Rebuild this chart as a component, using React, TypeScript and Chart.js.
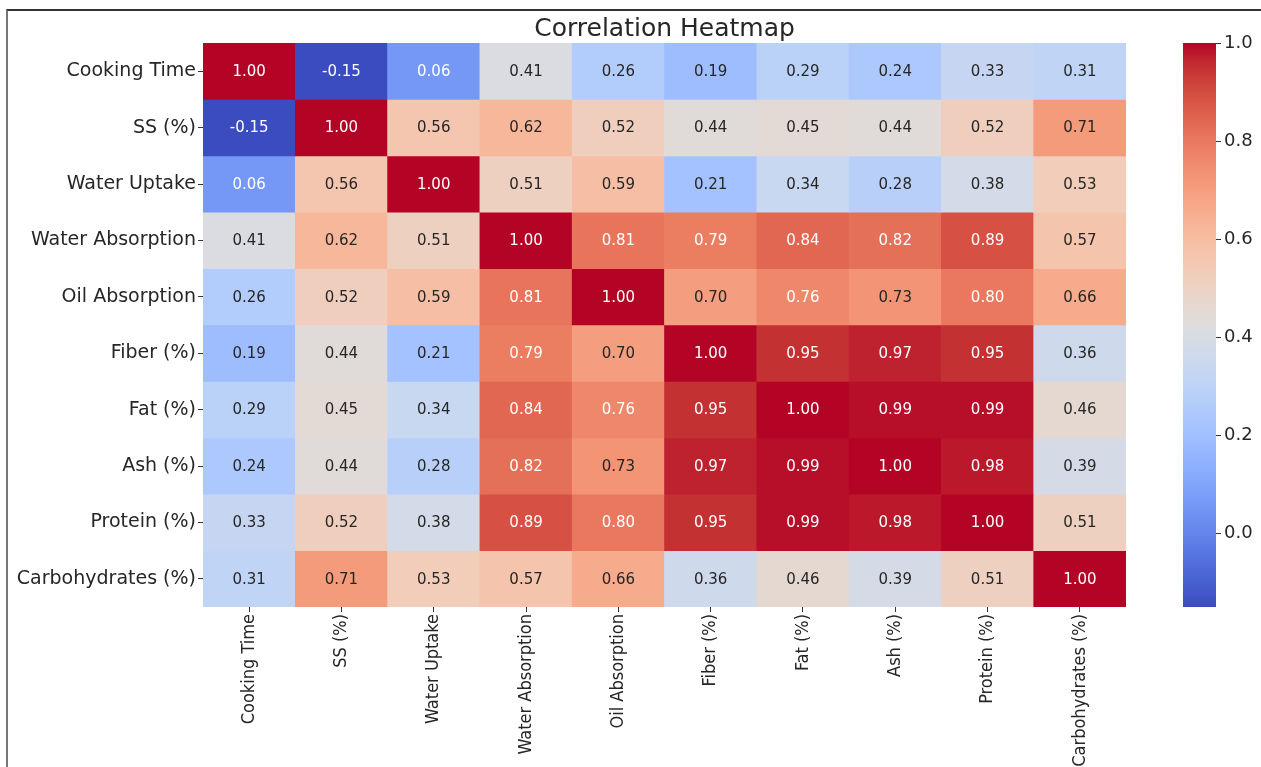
import React, { useEffect, useRef } from "react";
import { Chart, registerables } from "chart.js";

Chart.register(...registerables);

const variables = [
  "Cooking Time",
  "SS (%)",
  "Water Uptake",
  "Water Absorption",
  "Oil Absorption",
  "Fiber (%)",
  "Fat (%)",
  "Ash (%)",
  "Protein (%)",
  "Carbohydrates (%)",
];

const cookingTime = [1.0, -0.15, 0.06, 0.41, 0.26, 0.19, 0.29, 0.24, 0.33, 0.31];
const ss = [-0.15, 1.0, 0.56, 0.62, 0.52, 0.44, 0.45, 0.44, 0.52, 0.71];
const waterUptake = [0.06, 0.56, 1.0, 0.51, 0.59, 0.21, 0.34, 0.28, 0.38, 0.53];
const waterAbsorption = [0.41, 0.62, 0.51, 1.0, 0.81, 0.79, 0.84, 0.82, 0.89, 0.57];
const oilAbsorption = [0.26, 0.52, 0.59, 0.81, 1.0, 0.7, 0.76, 0.73, 0.8, 0.66];
const fiber = [0.19, 0.44, 0.21, 0.79, 0.7, 1.0, 0.95, 0.97, 0.95, 0.36];
const fat = [0.29, 0.45, 0.34, 0.84, 0.76, 0.95, 1.0, 0.99, 0.99, 0.46];
const ash = [0.24, 0.44, 0.28, 0.82, 0.73, 0.97, 0.99, 1.0, 0.98, 0.39];
const protein = [0.33, 0.52, 0.38, 0.89, 0.8, 0.95, 0.99, 0.98, 1.0, 0.51];
const carbohydrates = [0.31, 0.71, 0.53, 0.57, 0.66, 0.36, 0.46, 0.39, 0.51, 1.0];

const matrix = [
  cookingTime,
  ss,
  waterUptake,
  waterAbsorption,
  oilAbsorption,
  fiber,
  fat,
  ash,
  protein,
  carbohydrates,
];

const colorbarTicks = [0.0, 0.2, 0.4, 0.6, 0.8, 1.0];
const vmin = -0.15;
const vmax = 1.0;

// matplotlib "coolwarm" (Moreland) control points
const COOLWARM: number[][] = [
  [59, 76, 192], [68, 90, 204], [77, 104, 215], [87, 117, 225], [98, 130, 234],
  [108, 142, 241], [119, 154, 247], [130, 165, 251], [141, 176, 254], [152, 185, 255],
  [163, 194, 255], [174, 201, 253], [184, 208, 249], [194, 213, 244], [204, 217, 238],
  [213, 219, 230], [221, 221, 221], [229, 216, 209], [236, 211, 197], [241, 204, 185],
  [245, 196, 173], [247, 187, 160], [247, 177, 148], [247, 166, 135], [244, 154, 123],
  [241, 141, 111], [236, 127, 99], [229, 112, 88], [222, 96, 77], [213, 80, 66],
  [203, 62, 56], [192, 40, 47], [180, 4, 38],
];

function cmap(t: number): number[] {
  const tt = Math.max(0, Math.min(1, t)) * (COOLWARM.length - 1);
  const i = Math.min(Math.floor(tt), COOLWARM.length - 2);
  const f = tt - i;
  const a = COOLWARM[i];
  const b = COOLWARM[i + 1];
  return [0, 1, 2].map((k) => a[k] + (b[k] - a[k]) * f);
}

function rgbStr(c: number[]): string {
  return `rgb(${Math.round(c[0])},${Math.round(c[1])},${Math.round(c[2])})`;
}

function valueColor(v: number): number[] {
  return cmap((v - vmin) / (vmax - vmin));
}

function luminance(c: number[]): number {
  const lin = c.map((x) => {
    const s = x / 255;
    return s <= 0.03928 ? s / 12.92 : Math.pow((s + 0.055) / 1.055, 2.4);
  });
  return 0.2126 * lin[0] + 0.7152 * lin[1] + 0.0722 * lin[2];
}

const TEXT = "#262626";
const FONT = "'DejaVu Sans', sans-serif";

const annotatePlugin = {
  id: "annotate",
  afterDatasetsDraw(chart: any) {
    const ctx = chart.ctx;
    ctx.save();
    ctx.font = `15px ${FONT}`;
    ctx.textAlign = "center";
    ctx.textBaseline = "middle";
    matrix.forEach((row, r) => {
      const meta = chart.getDatasetMeta(r);
      row.forEach((v, c) => {
        const el = meta.data[c];
        if (!el) return;
        const p = el.getCenterPoint();
        const lum = luminance(valueColor(v));
        ctx.fillStyle = lum > 0.408 ? TEXT : "#ffffff";
        ctx.fillText(v.toFixed(2), p.x, p.y + 1);
      });
    });
    ctx.restore();
  },
};

const titlePlugin = {
  id: "heatTitle",
  afterDraw(chart: any) {
    const ctx = chart.ctx;
    const a = chart.chartArea;
    ctx.save();
    ctx.font = `25px ${FONT}`;
    ctx.fillStyle = TEXT;
    ctx.textAlign = "center";
    ctx.textBaseline = "alphabetic";
    ctx.fillText("Correlation Heatmap", (a.left + a.right) / 2, 36);
    ctx.restore();
  },
};

export default function App() {
  const mainRef = useRef<HTMLCanvasElement | null>(null);
  const barRef = useRef<HTMLCanvasElement | null>(null);

  useEffect(() => {
    if (!mainRef.current || !barRef.current) return;

    const datasets = matrix.map((row, r) => ({
      label: variables[r],
      data: row.map(() => [r, r + 1] as [number, number]),
      backgroundColor: row.map((v) => rgbStr(valueColor(v))),
      borderWidth: 0,
      barPercentage: 1,
      categoryPercentage: 1,
      grouped: false,
    }));

    const main = new Chart(mainRef.current, {
      type: "bar",
      data: { labels: variables, datasets: datasets as any },
      options: {
        responsive: false,
        animation: false,
        layout: { padding: { top: 43, right: 24, left: 0, bottom: 0 } },
        plugins: { legend: { display: false }, tooltip: { enabled: false } },
        scales: {
          x: {
            type: "category",
            offset: true,
            grid: {
              offset: false,
              drawOnChartArea: false,
              drawTicks: true,
              tickLength: 5,
              color: "#333333",
            },
            border: { display: false },
            ticks: {
              minRotation: 90,
              maxRotation: 90,
              autoSkip: false,
              padding: 2,
              color: TEXT,
              font: { family: "'DejaVu Sans Condensed', 'DejaVu Sans', sans-serif", size: 18 },
            },
            afterFit(scale: any) {
              scale.height = 160;
            },
          },
          y: {
            type: "linear",
            min: 0,
            max: 10,
            reverse: true,
            stacked: false,
            grid: {
              drawOnChartArea: false,
              drawTicks: true,
              tickLength: 5,
              color: "#333333",
            },
            border: { display: false },
            afterBuildTicks(scale: any) {
              scale.ticks = variables.map((_, i) => ({ value: i + 0.5 }));
            },
            ticks: {
              autoSkip: false,
              padding: 2,
              color: TEXT,
              font: { family: FONT, size: 19 },
              callback: (value: any) => variables[Math.floor(Number(value))],
            },
            afterFit(scale: any) {
              scale.width = 203;
            },
          },
        },
      },
      plugins: [annotatePlugin, titlePlugin],
    });

    const bar = new Chart(barRef.current, {
      type: "bar",
      data: {
        labels: ["cb"],
        datasets: [
          {
            data: [[vmin, vmax]] as any,
            borderWidth: 0,
            barPercentage: 1,
            categoryPercentage: 1,
            backgroundColor: (ctx: any) => {
              const chart = ctx.chart;
              const y = chart.scales.y;
              if (!chart.chartArea || !y) return "rgba(0,0,0,0)";
              const g = chart.ctx.createLinearGradient(
                0,
                y.getPixelForValue(vmin),
                0,
                y.getPixelForValue(vmax)
              );
              COOLWARM.forEach((c, i) => g.addColorStop(i / (COOLWARM.length - 1), rgbStr(c)));
              return g;
            },
          },
        ],
      },
      options: {
        responsive: false,
        animation: false,
        layout: { padding: { top: 43, bottom: 160, left: 33, right: 0 } },
        plugins: { legend: { display: false }, tooltip: { enabled: false } },
        scales: {
          x: { display: false, offset: true },
          y: {
            position: "right",
            min: vmin,
            max: vmax,
            grid: {
              drawOnChartArea: false,
              drawTicks: true,
              tickLength: 5,
              color: "#333333",
            },
            border: { display: false },
            afterBuildTicks(scale: any) {
              scale.ticks = colorbarTicks.map((v) => ({ value: v }));
            },
            ticks: {
              padding: 3,
              color: TEXT,
              font: { family: FONT, size: 18 },
              callback: (value: any) => Number(value).toFixed(1),
            },
            afterFit(scale: any) {
              scale.width = 45;
            },
          },
        },
      },
    });

    return () => {
      main.destroy();
      bar.destroy();
    };
  }, []);

  return (
    <div
      style={{
        position: "fixed",
        left: 0,
        top: 0,
        width: 1261,
        height: 767,
        background: "#ffffff",
        overflow: "hidden",
      }}
    >
      <div
        style={{
          position: "absolute",
          left: 6,
          top: 9,
          width: 1260,
          height: 760,
          borderLeft: "2px solid #777777",
          borderTop: "2px solid #333333",
        }}
      />
      <canvas
        ref={mainRef}
        width={1150}
        height={767}
        style={{ position: "absolute", left: 0, top: 0, display: "block" }}
      />
      <canvas
        ref={barRef}
        width={111}
        height={767}
        style={{ position: "absolute", left: 1150, top: 0, display: "block" }}
      />
    </div>
  );
}
